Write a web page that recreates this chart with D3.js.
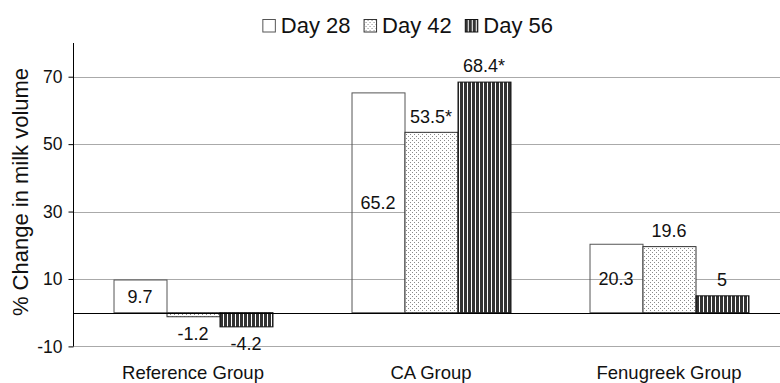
<!DOCTYPE html>
<html><head><meta charset="utf-8">
<script src="https://cdn.jsdelivr.net/npm/d3@7"></script>
<style>body{margin:0;background:#fff}svg{display:block;font-family:"Liberation Sans",Arial,sans-serif}</style>
</head><body><svg id="c" width="780" height="383"></svg>
<script>
const categories = ["Reference Group", "CA Group", "Fenugreek Group"];
const seriesNames = ["Day 28", "Day 42", "Day 56"];
const day28 = [9.7, 65.2, 20.3];
const day42 = [-1.2, 53.5, 19.6];
const day56 = [-4.2, 68.4, 5];
const labels28 = ["9.7", "65.2", "20.3"];
const labels42 = ["-1.2", "53.5*", "19.6"];
const labels56 = ["-4.2", "68.4*", "5"];
const yTicks = [-10, 10, 30, 50, 70];

(function () {
const FONT = "Liberation Sans, Arial, sans-serif";
const series = [
  {name: seriesNames[0], values: day28, labels: labels28, fill: "none", stroke: "#555"},
  {name: seriesNames[1], values: day42, labels: labels42, fill: "url(#dots)", stroke: "#333"},
  {name: seriesNames[2], values: day56, labels: labels56, fill: "url(#stripes)", stroke: "#111"}
];

const svg = d3.select("#c");
const defs = svg.append("defs");
const pd = defs.append("pattern").attr("id","dots").attr("patternUnits","userSpaceOnUse").attr("width",4).attr("height",4);
pd.append("rect").attr("width",4).attr("height",4).attr("fill","#fff");
pd.append("rect").attr("x",0).attr("y",0).attr("width",1).attr("height",1).attr("fill","#8a8a8a");
pd.append("rect").attr("x",2).attr("y",2).attr("width",1).attr("height",1).attr("fill","#8a8a8a");
const ps = defs.append("pattern").attr("id","stripes").attr("patternUnits","userSpaceOnUse").attr("width",4).attr("height",4);
ps.append("rect").attr("width",4).attr("height",4).attr("fill","#fff");
ps.append("rect").attr("x",0).attr("width",3).attr("height",4).attr("fill","#333");

const pLeft = 74, pRight = 788, pTop = 43, pBottom = 346.4;
const x = d3.scaleBand().domain(categories).range([pLeft, pRight]).paddingInner(0.332).paddingOuter(0.166);
const xs = d3.scaleBand().domain(seriesNames).range([0, x.bandwidth()]).padding(0);
const y = d3.scaleLinear().domain([-10, 80]).range([pBottom, pTop]);

// gridlines
svg.append("g").selectAll("line").data(yTicks).join("line")
  .attr("x1", pLeft - 1).attr("x2", 780).attr("y1", d => Math.round(y(d)) + 0.5).attr("y2", d => Math.round(y(d)) + 0.5)
  .attr("stroke", "#aaa").attr("stroke-width", 1);

// y axis
const yAxis = d3.axisLeft(y).tickValues(yTicks).tickSize(5).tickPadding(6).tickFormat(d => String(d));
const ga = svg.append("g").attr("transform", `translate(${pLeft - 0.5},0)`).call(yAxis);
ga.attr("font-family", FONT);
ga.select(".domain").attr("stroke", "#000").attr("d", `M0,${pTop}V${pBottom}`);
ga.selectAll(".tick line").attr("stroke", "#000");
ga.selectAll(".tick text").attr("font-size", 17.5).attr("fill", "#111");

// bars
const g = svg.append("g");
series.forEach((s) => {
  g.selectAll(null).data(categories).join("rect")
    .attr("x", (c) => x(c) + xs(s.name) + 0.5)
    .attr("y", (c, i) => Math.min(y(s.values[i]), y(0)))
    .attr("width", xs.bandwidth())
    .attr("height", (c, i) => Math.abs(y(s.values[i]) - y(0)))
    .attr("fill", s.fill).attr("stroke", s.stroke).attr("stroke-width", 1);
});

// zero line
svg.append("line").attr("x1", pLeft).attr("x2", 780).attr("y1", Math.round(y(0)) + 0.5).attr("y2", Math.round(y(0)) + 0.5)
  .attr("stroke", "#000").attr("stroke-width", 1.2);

// data labels
series.forEach((s, si) => {
  g.selectAll(null).data(categories).join("text")
    .attr("x", (c) => x(c) + xs(s.name) + xs.bandwidth() / 2)
    .attr("y", (c, i) => {
      const v = s.values[i];
      if (si === 0) return (y(v) + y(0)) / 2;
      return v >= 0 ? y(v) - 16 : y(v) + 17;
    })
    .attr("dy", "0.35em")
    .attr("text-anchor", "middle").attr("font-size", 18).attr("fill", "#111")
    .text((c, i) => s.labels[i]);
});

// x labels
svg.append("g").selectAll("text").data(categories).join("text")
  .attr("x", c => x(c) + x.bandwidth() / 2).attr("y", 379)
  .attr("text-anchor", "middle").attr("font-size", 18.5).attr("fill", "#111").text(c => c);

// y title
svg.append("text").attr("transform", "translate(28,192) rotate(-90)")
  .attr("text-anchor", "middle").attr("font-size", 22).attr("fill", "#111").text("% Change in milk volume");

// legend
const lg = svg.append("g");
let cx = 0;
const SQ = 12.5, GAP1 = 6, GAP2 = 13;
series.forEach((s) => {
  const item = lg.append("g").attr("transform", `translate(${cx},0)`);
  item.append("rect").attr("x", 0.5).attr("y", 19.5).attr("width", SQ).attr("height", SQ)
    .attr("fill", s.fill === "none" ? "#fff" : s.fill).attr("stroke", s.stroke);
  const t = item.append("text").attr("x", SQ + GAP1).attr("y", 33).attr("font-size", 22).attr("fill", "#111").text(s.name);
  cx += SQ + GAP1 + t.node().getComputedTextLength() + GAP2;
});
const total = cx - GAP2;
lg.attr("transform", `translate(${553 - total},0)`);
})();
</script></body></html>
